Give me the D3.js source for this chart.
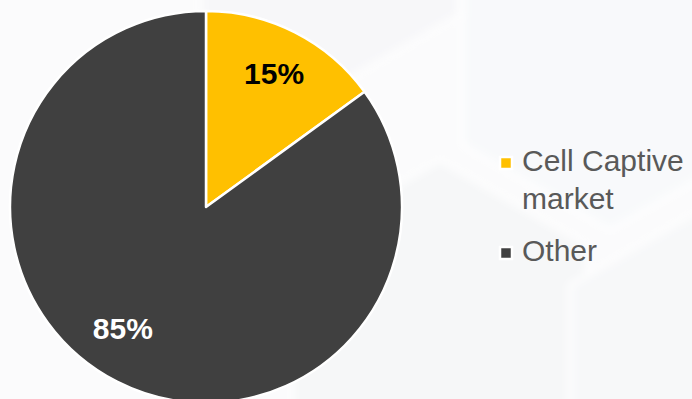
<!DOCTYPE html>
<html>
<head>
<meta charset="utf-8">
<script src="https://cdn.jsdelivr.net/npm/d3@7"></script>
<style>
  html, body { margin: 0; padding: 0; background: #fff; }
  svg { display: block; }
</style>
</head>
<body>
<div id="chart"></div>
<script>
const categories = ['Cell Captive market', 'Other'];
const values = [15, 85];
const valueLabels = ['15%', '85%'];
const legendLines = [['Cell Captive', 'market'], ['Other']];

const width = 692;
const height = 399;
const colors = ['#FFC000', '#404040'];
const labelColors = ['#000000', '#ffffff'];

const svg = d3.select('#chart')
  .append('svg')
  .attr('width', width)
  .attr('height', height);

// faint hexagon background
const defs = svg.append('defs');
const blur = defs.append('filter').attr('id', 'soft').attr('x', '-20%').attr('y', '-20%').attr('width', '140%').attr('height', '140%');
blur.append('feGaussianBlur').attr('stdDeviation', 4);

const bg = svg.append('g');
bg.append('rect').attr('width', width).attr('height', height).attr('fill', '#fbfbfc');
const hexes = [
  { cx: 610, cy: 60, r: 170, fill: '#f8f9fb' },
  { cx: 440, cy: 330, r: 170, fill: '#f6f7f8' },
  { cx: 700, cy: 360, r: 150, fill: '#f7f8f9' },
  { cx: 330, cy: -60, r: 150, fill: '#f7f7f9' }
];
const hg = bg.append('g').attr('filter', 'url(#soft)');
hexes.forEach(h => {
  const pts = d3.range(6).map(i => {
    const a = Math.PI / 6 + i * Math.PI / 3;
    return [h.cx + h.r * Math.cos(a), h.cy + h.r * Math.sin(a)];
  });
  hg.append('polygon')
    .attr('points', pts.map(p => p.join(',')).join(' '))
    .attr('fill', h.fill)
    .attr('stroke', '#ffffff')
    .attr('stroke-width', 4);
});

const cx = 206, cy = 207, radius = 196;

const pie = d3.pie().sort(null).value(d => d);
const arcs = pie(values);
const arc = d3.arc().innerRadius(0).outerRadius(radius);

const g = svg.append('g').attr('transform', `translate(${cx},${cy})`);

g.selectAll('path')
  .data(arcs)
  .join('path')
  .attr('d', arc)
  .attr('fill', (d, i) => colors[i])
  .attr('stroke', '#ffffff')
  .attr('stroke-width', 2.5)
  .attr('stroke-linejoin', 'round');

// labels sit on a ring inside the pie, with Excel's best-fit nudge
const labelRadius = [150, 147];
const labelTurn = [0, 0.13];
g.selectAll('text.pct')
  .data(arcs)
  .join('text')
  .attr('class', 'pct')
  .attr('x', (d, i) => labelRadius[i] * Math.sin((d.startAngle + d.endAngle) / 2 + labelTurn[i]))
  .attr('y', (d, i) => -labelRadius[i] * Math.cos((d.startAngle + d.endAngle) / 2 + labelTurn[i]))
  .attr('dy', '0.36em')
  .attr('text-anchor', 'middle')
  .attr('font-family', 'Liberation Sans, Arial, sans-serif')
  .attr('font-weight', 'bold')
  .attr('font-size', '30px')
  .attr('fill', (d, i) => labelColors[i])
  .text((d, i) => valueLabels[i]);

// legend
const legend = svg.append('g').attr('transform', 'translate(506,0)');
const rowY = [171, 261];
const lineGap = 38;
const items = legend.selectAll('g.item')
  .data(categories)
  .join('g')
  .attr('class', 'item')
  .attr('transform', (d, i) => `translate(0,${rowY[i]})`);

items.append('rect')
  .attr('x', -6)
  .attr('y', -14)
  .attr('width', 12)
  .attr('height', 12)
  .attr('fill', (d, i) => colors[i])
  .attr('stroke', '#ffffff')
  .attr('stroke-width', 2.5);

items.append('text')
  .attr('x', 16)
  .attr('font-family', 'Liberation Sans, Arial, sans-serif')
  .attr('font-size', '30px')
  .attr('fill', '#595959')
  .selectAll('tspan')
  .data((d, i) => legendLines[i])
  .join('tspan')
  .attr('x', 16)
  .attr('y', (d, j) => j * lineGap)
  .text(d => d);
</script>
</body>
</html>
